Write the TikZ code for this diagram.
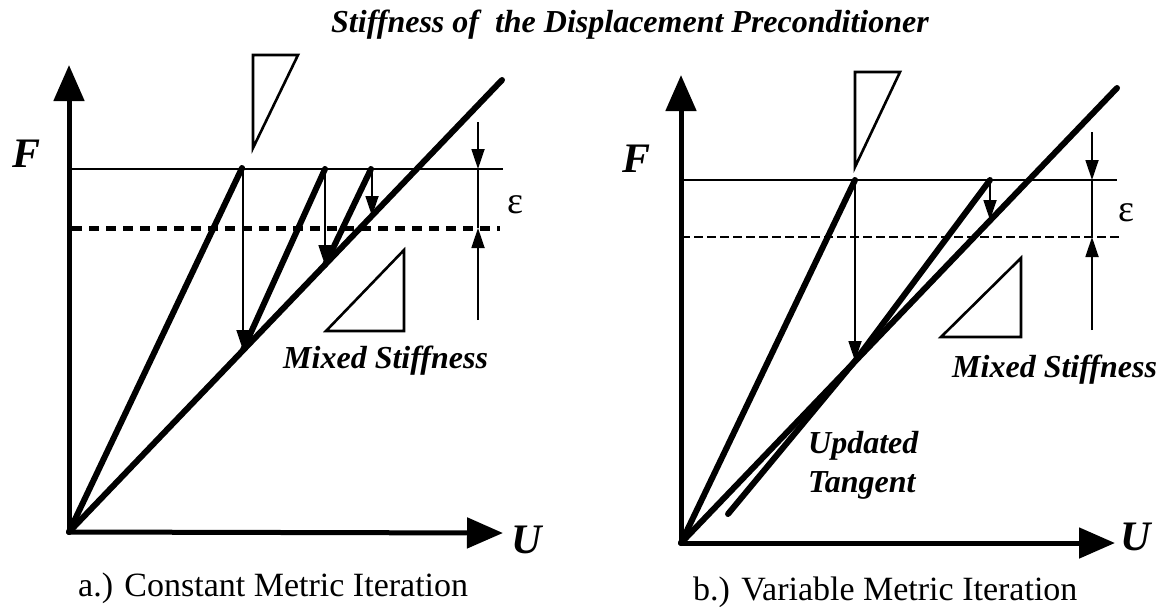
\documentclass[tikz,border=0pt]{standalone}
\usepackage{fontspec}
\setmainfont{Liberation Serif}
\usetikzlibrary{arrows.meta}
\begin{document}
\begin{tikzpicture}[x=1pt,y=-1pt,
  thickline/.style={line width=6pt, line cap=round},
  axis/.style={line width=5pt, -{Triangle[length=36pt,width=30pt]}},
  thinline/.style={line width=1.8pt},
  thinarrow/.style={line width=1.8pt, -{Triangle[length=20pt,width=13pt]}},
  tri/.style={line width=2.6pt, line join=miter},
  lbl/.style={font=\fontsize{32}{40}\selectfont\bfseries\itshape, inner sep=0pt, anchor=base west},
  axlbl/.style={font=\fontsize{42}{48}\selectfont\bfseries\itshape, inner sep=0pt, anchor=base west},
  epslbl/.style={font=\fontsize{38}{44}\selectfont, inner sep=0pt},
  caplbl/.style={font=\fontsize{34}{40}\selectfont, inner sep=0pt, anchor=base west},
]
\useasboundingbox[fill=white] (0,0) rectangle (1161,606);

% title
\node[lbl] (title) at (331,32) {Stiffness of \ the Displacement Preconditioner};

% ===== left plot =====
\coordinate (O1) at (69,532);
\coordinate (Y1) at (69,65);
\coordinate (X1) at (503,533);
\coordinate (L1) at (502,80);
\coordinate (A1) at (242,168);
\coordinate (B1) at (243,350);
\coordinate (C1) at (325,169);
\coordinate (D1) at (325,265);
\coordinate (E1) at (371,169);
\coordinate (G1) at (372,216);

\draw[thinline] (69,169) -- (503,169);
\draw[line width=5pt, dash pattern=on 10pt off 7pt] (72,228) -- (500,228);
\draw[axis] (O1) -- (Y1);
\draw[axis] (O1) -- (X1);
\draw[thickline] (O1) -- (L1);
\draw[thickline] (O1) -- (A1);
\draw[thinarrow] (243,169) -- (B1);
\draw[thickline] (B1) -- (C1);
\draw[thinarrow] (C1) -- (D1);
\draw[thickline] (D1) -- (E1);
\draw[thinarrow] (372,169) -- (G1);
\draw[tri] (253,55) -- (298,55) -- (253,148) -- cycle;
\draw[tri] (326,331) -- (404,331) -- (404,250) -- cycle;
\draw[thinarrow] (478,122) -- (478,169);
\draw[thinline] (478,169) -- (478,228);
\draw[thinarrow] (478,320) -- (478,228);
\node[epslbl] (eps1) at (515,205) {ε};
\node[axlbl] (F1) at (12,167) {F};
\node[axlbl] (U1) at (511,553) {U};
\node[lbl] (ms1) at (283,368) {Mixed Stiffness};
\node[caplbl] (cap1) at (78,596) {a.) Constant Metric Iteration};

% ===== right plot =====
\coordinate (O2) at (681,543);
\coordinate (Y2) at (681,75);
\coordinate (X2) at (1115,543);
\coordinate (L2) at (1117,88);
\coordinate (A2) at (855,180);
\coordinate (B2) at (855,361);
\coordinate (T0) at (728,514);
\coordinate (T1) at (990,180);
\coordinate (G2) at (990,220);

\draw[thinline] (681,180) -- (1117,180);
\draw[line width=2.5pt, dash pattern=on 9pt off 4pt] (681,237) -- (1120,237);
\draw[axis] (O2) -- (Y2);
\draw[axis] (O2) -- (X2);
\draw[thickline] (O2) -- (L2);
\draw[thickline] (O2) -- (A2);
\draw[thinarrow] (A2) -- (B2);
\draw[thickline, line join=round] (T0) -- (B2) -- (T1);
\draw[thinarrow] (T1) -- (G2);
\draw[tri] (855,72) -- (900,72) -- (855,167) -- cycle;
\draw[tri] (941,337) -- (1021,337) -- (1021,258) -- cycle;
\draw[thinarrow] (1092,132) -- (1092,180);
\draw[thinline] (1092,180) -- (1092,237);
\draw[thinarrow] (1092,330) -- (1092,237);
\node[epslbl] (eps2) at (1126,213) {ε};
\node[axlbl] (F2) at (622,172) {F};
\node[axlbl] (U2) at (1120,550) {U};
\node[lbl] (ms2) at (952,377) {Mixed Stiffness};
\node[lbl, align=left, anchor=north west, font=\fontsize{32}{39}\selectfont\bfseries\itshape] (ut) at (808,431) {Updated\\Tangent};
\node[caplbl] (cap2) at (693,600) {b.) Variable Metric Iteration};
\end{tikzpicture}
\end{document}
